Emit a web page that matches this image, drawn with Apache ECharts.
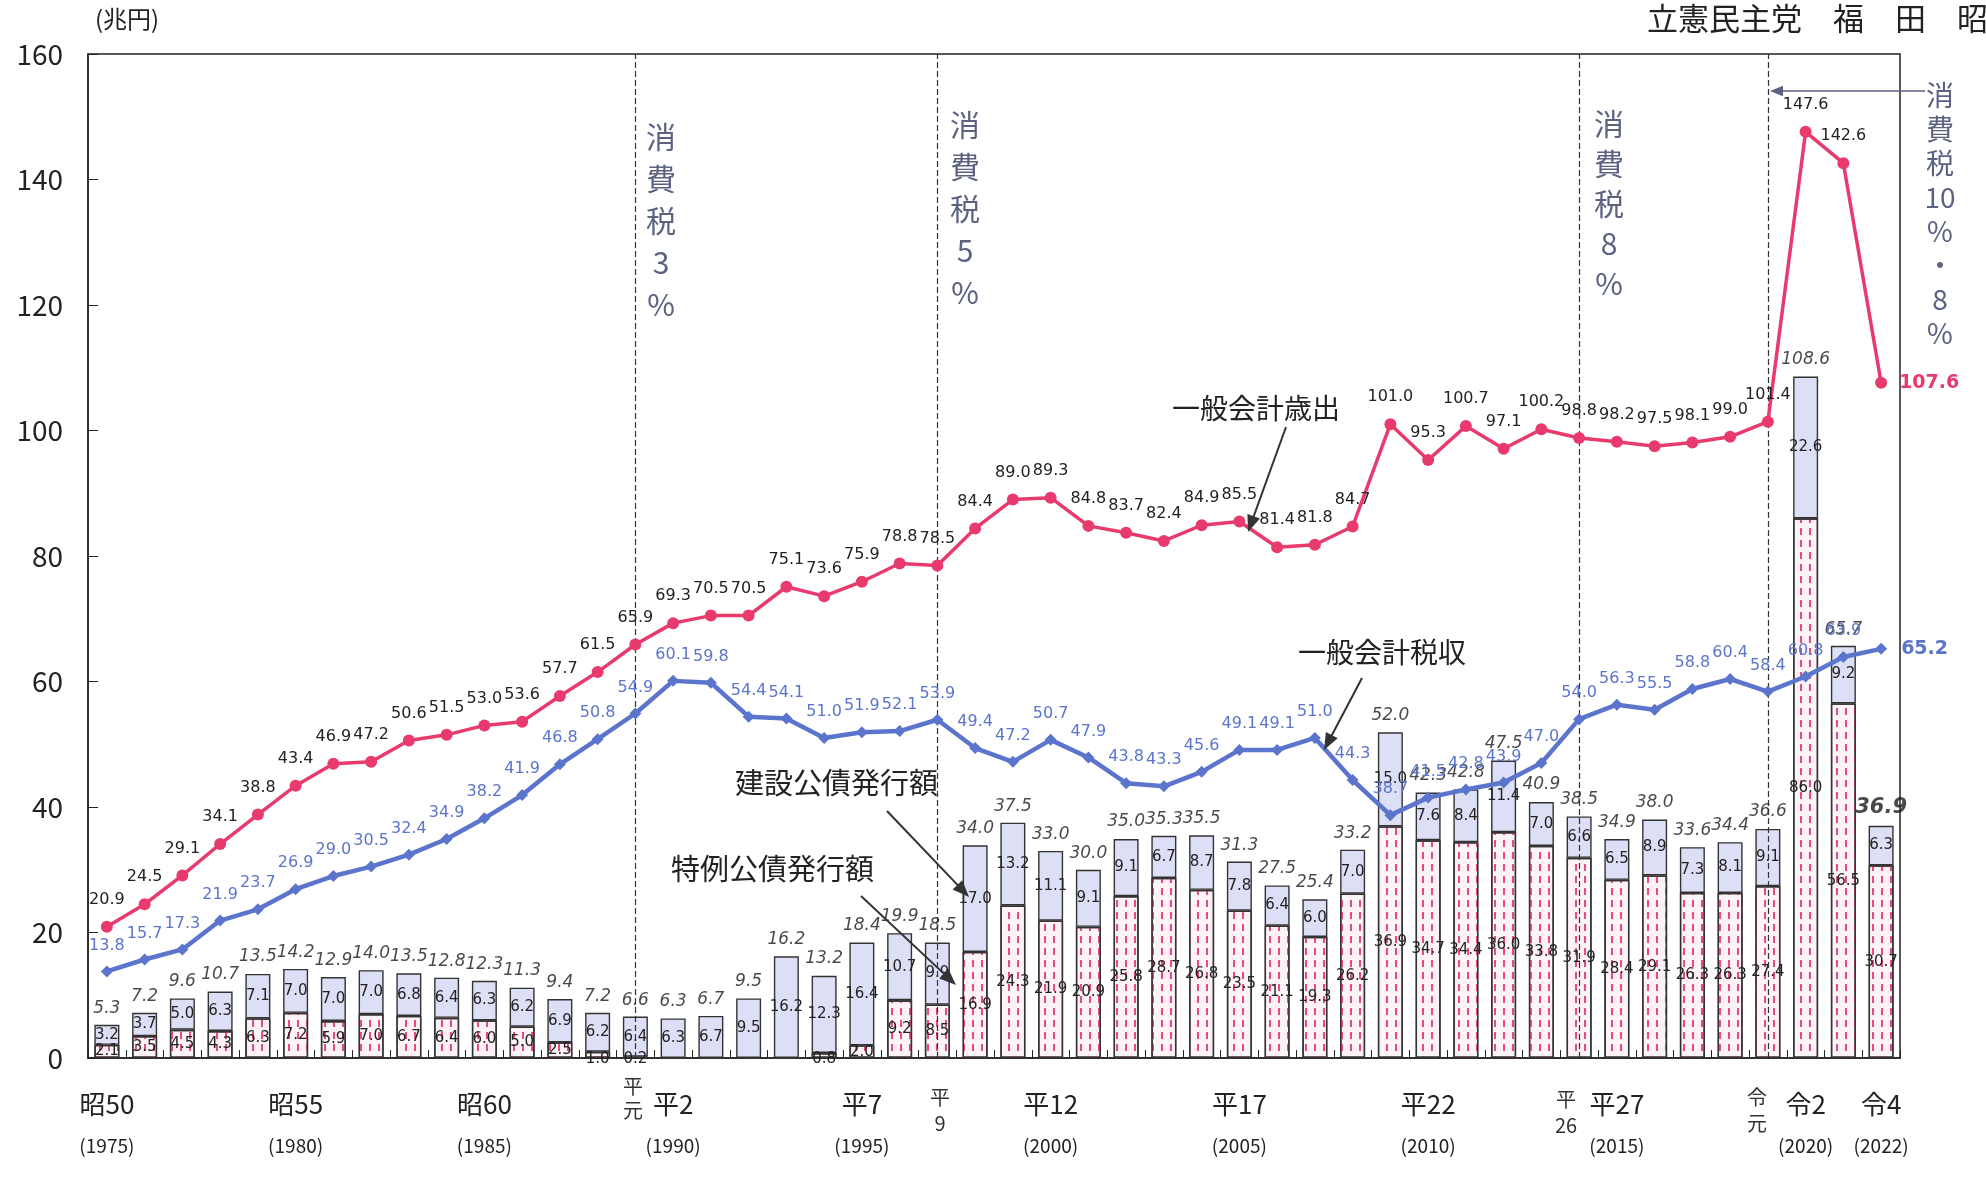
<!DOCTYPE html>
<html><head><meta charset="utf-8">
<script src="https://cdn.jsdelivr.net/npm/echarts@6/dist/echarts.min.js"></script>
<style>html,body{margin:0;padding:0;background:#fff}#c{width:1986px;height:1177px}</style>
</head><body><div id="c"></div>
<script>
// ---------- data (兆円) ----------
const years = ['1975','1976','1977','1978','1979','1980','1981','1982','1983','1984',
  '1985','1986','1987','1988','1989','1990','1991','1992','1993','1994',
  '1995','1996','1997','1998','1999','2000','2001','2002','2003','2004',
  '2005','2006','2007','2008','2009','2010','2011','2012','2013','2014',
  '2015','2016','2017','2018','2019','2020','2021','2022'];
const expenditure = [20.9,24.5,29.1,34.1,38.8,43.4,46.9,47.2,50.6,51.5,
  53.0,53.6,57.7,61.5,65.9,69.3,70.5,70.5,75.1,73.6,
  75.9,78.8,78.5,84.4,89.0,89.3,84.8,83.7,82.4,84.9,
  85.5,81.4,81.8,84.7,101.0,95.3,100.7,97.1,100.2,98.8,
  98.2,97.5,98.1,99.0,101.4,147.6,142.6,107.6];
const taxRevenue = [13.8,15.7,17.3,21.9,23.7,26.9,29.0,30.5,32.4,34.9,
  38.2,41.9,46.8,50.8,54.9,60.1,59.8,54.4,54.1,51.0,
  51.9,52.1,53.9,49.4,47.2,50.7,47.9,43.8,43.3,45.6,
  49.1,49.1,51.0,44.3,38.7,41.5,42.8,43.9,47.0,54.0,
  56.3,55.5,58.8,60.4,58.4,60.8,63.9,65.2];
const constructionBonds = [3.2,3.7,5.0,6.3,7.1,7.0,7.0,7.0,6.8,6.4,
  6.3,6.2,6.9,6.2,6.4,6.3,6.7,9.5,16.2,12.3,
  16.4,10.7,9.9,17.0,13.2,11.1,9.1,9.1,6.7,8.7,
  7.8,6.4,6.0,7.0,15.0,7.6,8.4,11.4,7.0,6.6,
  6.5,8.9,7.3,8.1,9.1,22.6,9.2,6.3];
const specialBonds = [2.1,3.5,4.5,4.3,6.3,7.2,5.9,7.0,6.7,6.4,
  6.0,5.0,2.5,1.0,0.2,0,0,0,0,0.8,
  2.0,9.2,8.5,16.9,24.3,21.9,20.9,25.8,28.7,26.8,
  23.5,21.1,19.3,26.2,36.9,34.7,34.4,36.0,33.8,31.9,
  28.4,29.1,26.3,26.3,27.4,86.0,56.5,30.7];
const bondTotals = [5.3,7.2,9.6,10.7,13.5,14.2,12.9,14.0,13.5,12.8,
  12.3,11.3,9.4,7.2,6.6,6.3,6.7,9.5,16.2,13.2,
  18.4,19.9,18.5,34.0,37.5,33.0,30.0,35.0,35.3,35.5,
  31.3,27.5,25.4,33.2,52.0,42.3,42.8,47.5,40.9,38.5,
  34.9,38.0,33.6,34.4,36.6,108.6,65.7,36.9];
const tickYears = ['1975','1980','1985','1990','1995','2000','2005','2010','2015','2020','2022'];
const tickEras  = ['昭50','昭55','昭60','平2','平7','平12','平17','平22','平27','令2','令4'];
const taxChangeYears = ['1989','1997','2014','2019'];
const yMin = 0, yMax = 160, yStep = 20;

// ---------- styles ----------
const JP = '"Noto Sans CJK JP","Noto Sans",sans-serif';
const NUM = '"DejaVu Sans",Verdana,sans-serif';
const RED = '#e83a6c', BLUE = '#5b74cc', PENCIL = '#5c6280';
const last = years.length - 1;
const fmt = p => (typeof p.value === 'number' ? p.value : +p.value).toFixed(1);

function arrow(x1, y1, x2, y2, color, w, head) {
  const a = Math.atan2(y2 - y1, x2 - x1), h = head || 16, s = 0.38;
  const p1 = [x2 - h * Math.cos(a - s), y2 - h * Math.sin(a - s)];
  const p2 = [x2 - h * Math.cos(a + s), y2 - h * Math.sin(a + s)];
  return [
    {type:'line', shape:{x1, y1, x2:x2 - h*0.6*Math.cos(a), y2:y2 - h*0.6*Math.sin(a)}, style:{stroke:color, lineWidth:w}, z:100},
    {type:'polygon', shape:{points:[[x2,y2], p1, p2]}, style:{fill:color}, z:100}
  ];
}
function txt(x, y, text, font, fill, align, extra) {
  return Object.assign({type:'text', x, y, z:100,
    style:Object.assign({text, font, fill, textAlign:align || 'left', textVerticalAlign:'middle'}, extra || {})});
}
function vtxt(x, y, text, size, fill, lh) {
  return {type:'text', x, y, z:100, style:{text, font:`${size}px ${JP}`, fill, textAlign:'center',
    textVerticalAlign:'top', lineHeight:lh}};
}

const chart = echarts.init(document.getElementById('c'));
chart.setOption({
  animation:false,
  backgroundColor:'#ffffff',
  grid:{left:88, right:86, top:54, bottom:119, show:true, borderColor:'#222', borderWidth:1.5},
  xAxis:{
    type:'category', data:years, boundaryGap:true,
    axisLine:{lineStyle:{color:'#222', width:1.5}},
    axisTick:{show:true, inside:true, length:8, interval:0, lineStyle:{color:'#222'}},
    axisLabel:{interval:0, margin:24,
      formatter:(v) => { const k = tickYears.indexOf(v); return k < 0 ? '' : `{era|${tickEras[k]}}\n{yr|(${v})}`; },
      rich:{era:{fontFamily:JP, fontSize:26, color:'#222', lineHeight:44},
            yr:{fontFamily:JP, fontSize:19, color:'#222', lineHeight:40}}}
  },
  yAxis:{
    type:'value', min:yMin, max:yMax, interval:yStep,
    axisLine:{show:true, lineStyle:{color:'#222', width:1.5}},
    axisTick:{show:true, inside:true, length:10, lineStyle:{color:'#222'}},
    splitLine:{show:false},
    axisLabel:{fontFamily:JP, fontSize:28, color:'#222', margin:25}
  },
  series:[
    {
      name:'合計', type:'scatter', symbolSize:0, z:1, silent:true,
      data:bondTotals.map((v, i) => i === last ? {value:v, label:{fontWeight:'bold', fontSize:21}} : v),
      label:{show:true, position:'top', distance:8, fontFamily:NUM, fontStyle:'italic', fontSize:17, color:'#1a1a1a', formatter:fmt},
      markLine:{silent:true, symbol:['none','none'], label:{show:false},
        lineStyle:{color:'#333', width:1.2, type:[6,3]},
        data:taxChangeYears.map(y => ({xAxis:y}))}
    },
    {
      name:'特例公債発行額', type:'bar', stack:'bond', barWidth:25, z:2,
      data:specialBonds.map(v => v === 0 ? {value:v, label:{show:false}} :
        (v < 1.5 ? {value:v, label:{position:'insideBottom', offset:[0,14]}} : v)),
      itemStyle:{color:'#fdf3f7', borderColor:'#333', borderWidth:1.4,
        decal:{symbol:'rect', symbolSize:1, color:'#ea4a82', dashArrayX:[1.6,6.5], dashArrayY:[7,5]}},
      label:{show:true, position:'inside', fontFamily:NUM, fontSize:15, color:'#222', formatter:fmt}
    },
    {
      name:'建設公債発行額', type:'bar', stack:'bond', barWidth:25, z:2,
      data:constructionBonds,
      itemStyle:{color:'#dcdff5', borderColor:'#333', borderWidth:1.4},
      label:{show:true, position:'inside', fontFamily:NUM, fontSize:15, color:'#222', formatter:fmt}
    },
    {
      name:'一般会計歳出', type:'line', z:5,
      data:expenditure.map((v, i) => i === last ? {value:v, label:{position:'right', distance:12, color:RED, fontWeight:'bold', fontSize:19}} : v),
      symbol:'circle', symbolSize:12,
      lineStyle:{color:RED, width:3.5}, itemStyle:{color:RED},
      label:{show:true, position:'top', distance:13, fontFamily:NUM, fontSize:16, color:'#222', formatter:fmt}
    },
    {
      name:'一般会計税収', type:'line', z:5,
      data:taxRevenue.map((v, i) => i === last ? {value:v, label:{position:'right', distance:14, color:BLUE, fontWeight:'bold', fontSize:19}} : v),
      symbol:'diamond', symbolSize:12,
      lineStyle:{color:BLUE, width:4.5}, itemStyle:{color:BLUE},
      label:{show:true, position:'top', distance:12, fontFamily:NUM, fontSize:16, color:BLUE, formatter:fmt}
    }
  ],
  graphic:[].concat(
    [txt(95, 19, '(兆円)', `24px ${JP}`, '#222'),
     txt(1647, 18, '立憲民主党　福　田　昭', `31px ${JP}`, '#222'),
     txt(1172, 408, '一般会計歳出', `28px ${JP}`, '#222'),
     txt(1298, 652, '一般会計税収', `28px ${JP}`, '#222'),
     txt(735, 783, '建設公債発行額', `29px ${JP}`, '#222'),
     txt(671, 869, '特例公債発行額', `29px ${JP}`, '#222')],
    arrow(1286, 427, 1248, 532, '#333', 2, 18),
    arrow(1362, 678, 1324, 750, '#333', 2, 18),
    arrow(887, 811, 969, 897, '#333', 2, 18),
    arrow(861, 896, 956, 985, '#333', 2, 18),
    [vtxt(661, 116, '消\n費\n税\n3\n%', 30, PENCIL, 42),
     vtxt(965, 104, '消\n費\n税\n5\n%', 30, PENCIL, 42),
     vtxt(1609, 104, '消\n費\n税\n8\n%', 30, PENCIL, 40),
     vtxt(1940, 78, '消\n費\n税\n10\n%\n・\n8\n%', 28, PENCIL, 34)],
    arrow(1925, 91, 1770, 91, PENCIL, 1.6, 14),
    [vtxt(633, 1074, '平\n元', 20, '#333', 24),
     vtxt(940, 1084, '平\n9', 20, '#333', 26),
     vtxt(1566, 1086, '平\n26', 20, '#333', 26),
     vtxt(1757, 1084, '令\n元', 20, '#333', 26)]
  )
});
</script></body></html>
